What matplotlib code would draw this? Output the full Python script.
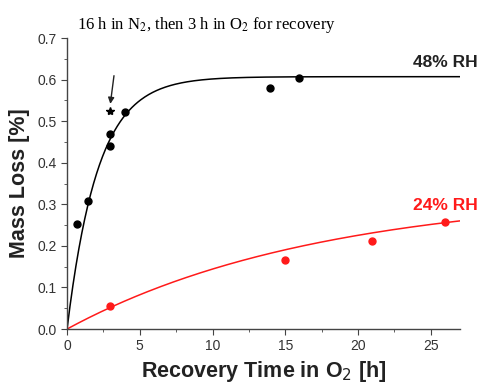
import numpy as np
import matplotlib.pyplot as plt
from matplotlib.ticker import MultipleLocator

plt.rcParams['font.family'] = ['Liberation Sans', 'DejaVu Sans']

# measured mass loss, 48% RH
t_48 = [0.66, 1.42, 2.95, 2.95, 3.96, 13.96, 15.96]
m_48 = [0.252, 0.308, 0.440, 0.468, 0.522, 0.579, 0.605]
# 16 h in N2 then 3 h in O2
t_star = [2.95]
m_star = [0.525]

# measured mass loss, 24% RH
t_24 = [2.95, 14.97, 20.97, 25.96]
m_24 = [0.055, 0.167, 0.212, 0.257]

# exponential recovery fits: A * (1 - exp(-t / tau))
fit_48 = (0.607, 2.12)
fit_24 = (0.33, 17.4)

t = np.linspace(0, 27, 400)

fig = plt.figure(figsize=(4.79, 3.88), dpi=100)
ax = fig.add_axes([0.140, 0.152, 0.820, 0.750])

A, tau = fit_48
ax.plot(t, A * (1 - np.exp(-t / tau)), color='black', lw=1.1)
A, tau = fit_24
ax.plot(t, A * (1 - np.exp(-t / tau)), color='#ff1a1a', lw=1.1)

ax.plot(t_48, m_48, 'o', color='black', ms=5)
ax.plot(t_24, m_24, 'o', color='#ff1a1a', ms=5)
ax.plot(t_star, m_star, '*', color='black', ms=6)

ax.annotate('', xy=(2.95, 0.535), xytext=(3.25, 0.616),
            arrowprops=dict(arrowstyle='-|>', color='#222222', lw=1.0,
                            mutation_scale=9))

ax.text(28.2, 0.641, '48% RH', ha='right', va='center', fontsize=12.5,
        fontweight='bold', color='#222222', clip_on=False)
ax.text(28.2, 0.298, '24% RH', ha='right', va='center', fontsize=12.5,
        fontweight='bold', color='#ff1a1a', clip_on=False)

fig.text(0.160, 0.935, '16 h in N$_2$, then 3 h in O$_2$ for recovery',
         ha='left', va='center', fontsize=12, family='Liberation Serif',
         math_fontfamily='stix')

ax.set_xlim(0, 27)
ax.set_ylim(0, 0.7)
ax.xaxis.set_major_locator(MultipleLocator(5))
ax.xaxis.set_minor_locator(MultipleLocator(2.5))
ax.yaxis.set_major_locator(MultipleLocator(0.1))
ax.yaxis.set_minor_locator(MultipleLocator(0.05))
ax.yaxis.set_major_formatter(plt.FuncFormatter(lambda v, p: f'{v:.1f}'))

for s in ['top', 'right']:
    ax.spines[s].set_visible(False)
for s in ['left', 'bottom']:
    ax.spines[s].set_color('#444444')
    ax.spines[s].set_linewidth(1.0)
ax.tick_params(which='both', direction='out', colors='#444444',
               labelcolor='#333333', labelsize=10)
ax.tick_params(which='major', length=4)
ax.tick_params(which='minor', length=2.5)

ax.set_xlabel('Recovery Time in O$_2$ [h]', fontsize=15.5, fontweight='bold',
              color='#222222', labelpad=4)
ax.set_ylabel('Mass Loss [%]', fontsize=15.5, fontweight='bold',
              color='#222222', labelpad=5)

fig.savefig('out.png', dpi=100)
